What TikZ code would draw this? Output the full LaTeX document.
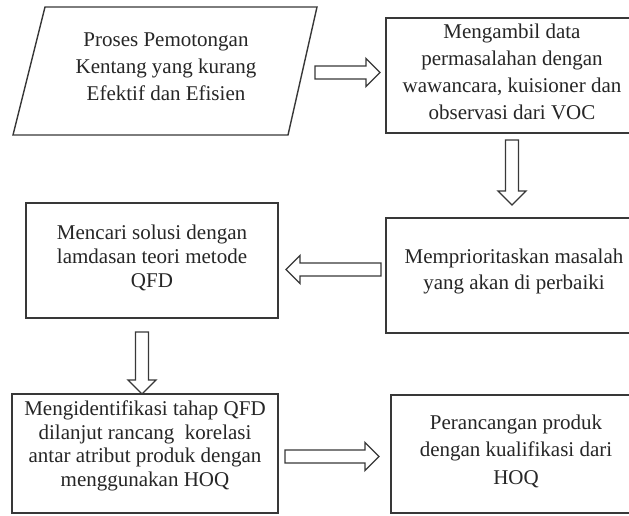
\documentclass[tikz,border=0pt]{standalone}
\usepackage{fontspec}
\setmainfont{Liberation Serif}
\usetikzlibrary{calc}
\tikzset{
  outline/.style={draw=black!78, line width=1.4pt, line join=miter},
  box/.style={outline, rectangle, inner sep=0pt},
  txt/.style={align=center, text=black!85, inner sep=0pt, font=\fontsize{21}{#1}\selectfont},
  txt/.default=27,
  blockarr/.style={outline, to path={
    ($(\tikztostart)!6.5pt!90:(\tikztotarget)$) --
    ($($(\tikztotarget)!14pt!(\tikztostart)$)!6.5pt!90:(\tikztotarget)$) --
    ($($(\tikztotarget)!14pt!(\tikztostart)$)!14pt!90:(\tikztotarget)$) --
    (\tikztotarget) --
    ($($(\tikztotarget)!14pt!(\tikztostart)$)!14pt!-90:(\tikztotarget)$) --
    ($($(\tikztotarget)!14pt!(\tikztostart)$)!6.5pt!-90:(\tikztotarget)$) --
    ($(\tikztostart)!6.5pt!-90:(\tikztotarget)$) -- cycle}}
}
\begin{document}
\begin{tikzpicture}[x=1pt, y=-1pt]
\useasboundingbox (0,0) rectangle (629,516);
\clip (0,0) rectangle (629,516);
\fill[white] (0,0) rectangle (629,516);

% parallelogram
\coordinate (pa) at (45,7);
\coordinate (pb) at (317,7);
\coordinate (pc) at (288,135);
\coordinate (pd) at (13,135);
\draw[outline] (pa) -- (pb) -- (pc) -- (pd) -- cycle;
\node[txt] (p1) at (166,67) {Proses Pemotongan\\Kentang yang kurang\\Efektif dan Efisien};

% boxes
\node[box, minimum width=252, minimum height=115] (b2) at (512,75.5) {};
\node[txt] (t2) at (512,72) {Mengambil data\\permasalahan dengan\\wawancara, kuisioner dan\\observasi dari VOC};

\node[box, minimum width=252, minimum height=115] (b3) at (152,260.5) {};
\node[txt=24] (t3) at (152,258) {Mencari solusi dengan\\lamdasan teori metode\\QFD};

\node[box, minimum width=256, minimum height=115] (b4) at (514,275.5) {};
\node[txt=26] (t4) at (514,271) {Memprioritaskan masalah\\yang akan di perbaiki};

\node[box, minimum width=266, minimum height=119] (b5) at (145,453.5) {};
\node[txt=23.5] (t5) at (145,446) {Mengidentifikasi tahap QFD\\dilanjut rancang~ korelasi\\antar atribut produk dengan\\menggunakan HOQ};

\node[box, minimum width=250, minimum height=118] (b6) at (516,454) {};
\node[txt=27.5] (t6) at (516,451) {Perancangan produk\\dengan kualifikasi dari\\HOQ};

% arrow end points
\coordinate (a1s) at (315,72.5);
\coordinate (a1e) at (380,72.5);
\coordinate (a2s) at (512,140);
\coordinate (a2e) at (512,205);
\coordinate (a3s) at (381,269.5);
\coordinate (a3e) at (286,269.5);
\coordinate (a4s) at (142,332);
\coordinate (a4e) at (142,394);
\coordinate (a5s) at (285,456.5);
\coordinate (a5e) at (379,456.5);

\draw[blockarr] (a1s) to (a1e);
\draw[blockarr] (a2s) to (a2e);
\draw[blockarr] (a3s) to (a3e);
\draw[blockarr] (a4s) to (a4e);
\draw[blockarr] (a5s) to (a5e);
\end{tikzpicture}
\end{document}
